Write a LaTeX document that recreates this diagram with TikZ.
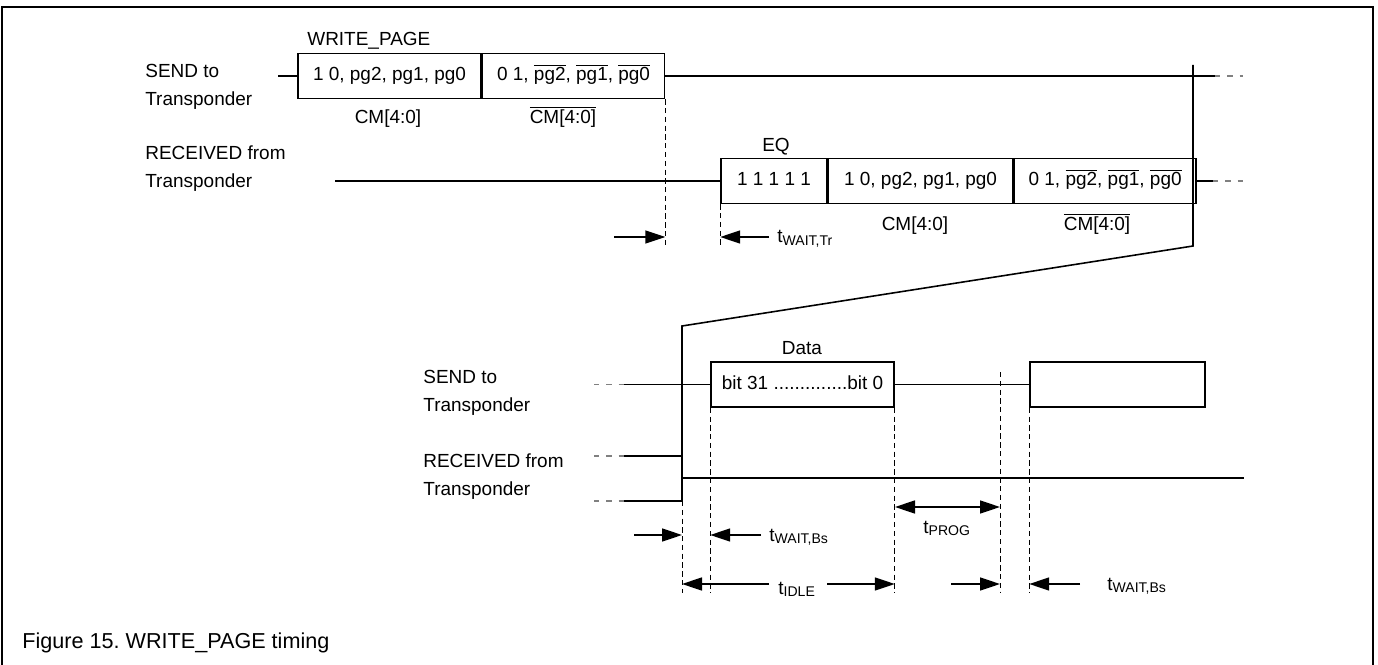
\documentclass[tikz,border=0pt]{standalone}
\usepackage{fontspec}
\setmainfont{Liberation Sans}
\usepackage{tikz}
\usetikzlibrary{arrows.meta}

\newcommand{\ovl}[1]{$\overline{\mbox{#1}}$}
\newcommand{\tsub}[1]{\raisebox{-0.12em}{\fontsize{8}{9}\selectfont #1}}

\begin{document}
\begin{tikzpicture}[x=0.02cm, y=-0.02cm, font=\fontsize{10.8}{16}\selectfont,
        seg/.style={draw, line width=0.9pt, minimum height=0.9cm, inner sep=0pt, text height=0.72em, text depth=0.2em},
        sig/.style={line width=0.9pt},
        ext/.style={gray, line width=0.9pt, dash pattern=on 3pt off 4pt},
        guide/.style={line width=0.4pt, dash pattern=on 3pt off 2pt},
        tarr/.style={-{Triangle[length=4mm,width=2.6mm]}, line width=0.9pt},
        tboth/.style={{Triangle[length=4mm,width=2.6mm]}-{Triangle[length=4mm,width=2.6mm]}, line width=0.9pt},
        lbl/.style={align=left, anchor=west, inner sep=0pt},
        txt/.style={anchor=base west, inner sep=0pt}]
        \useasboundingbox (0,0) rectangle (1378,665);
        \draw[line width=1.3pt] (2,665) -- (2,7) -- (1373,7) -- (1373,665); % frame

        % command sent to the transponder
        \node[lbl] (sendA) at (145,86.5) {SEND to\\Transponder};
        \node[seg, minimum width=3.66cm] (wpA) at (389.5,76) {1 0, pg2, pg1, pg0};
        \node[seg, minimum width=3.64cm, anchor=west] (wpB) at (wpA.east) {0 1, \ovl{pg2}, \ovl{pg1}, \ovl{pg0}};
        \node[txt] (wpName) at (307,46) {WRITE\_PAGE};
        \node[anchor=base, inner sep=0pt] (cmA) at (388,124) {CM[4:0]};
        \node[anchor=base, inner sep=0pt] (cmB) at (563,124) {\ovl{CM[4:0]}};
        \coordinate (sendAin) at (278,76);
        \coordinate (sendAout) at (1215,76);
        \coordinate (sendAend) at (1243,76);
        \draw[sig] (sendAin) -- (wpA.west);
        \draw[sig] (wpB.east) -- (sendAout);
        \draw[ext] (sendAout) -- (sendAend);

        % answer from the transponder
        \node[lbl] (recvA) at (145,169) {RECEIVED from\\Transponder};
        \node[seg, minimum width=2.12cm] (eq) at (774,181) {1 1 1 1 1};
        \node[seg, minimum width=3.68cm, anchor=west] (rcA) at (eq.east) {1 0, pg2, pg1, pg0};
        \node[seg, minimum width=3.64cm, anchor=west] (rcB) at (rcA.east) {0 1, \ovl{pg2}, \ovl{pg1}, \ovl{pg0}};
        \node[anchor=base, inner sep=0pt] (eqName) at (776,152) {EQ};
        \node[anchor=base, inner sep=0pt] (cmC) at (915,230.5) {CM[4:0]};
        \node[anchor=base, inner sep=0pt] (cmD) at (1097,230.5) {\ovl{CM[4:0]}};
        \coordinate (recvAin) at (335,181);
        \coordinate (recvAout) at (1213,181);
        \coordinate (recvAend) at (1243,181);
        \draw[sig] (recvAin) -- (eq.west);
        \draw[sig] (rcB.east) -- (recvAout);
        \draw[ext] (recvAout) -- (recvAend);

        % t_WAIT,Tr
        \coordinate (gEndA) at (0,248);
        \draw[guide] (wpB.south east) -- (wpB.south east |- gEndA);
        \draw[guide] (eq.south west) -- (eq.south west |- gEndA);
        \coordinate (aA) at (614,237);
        \coordinate (aB) at (769,237);
        \draw[tarr] (aA) -- (aA -| wpB.east);
        \draw[tarr] (aB) -- (aB -| eq.west);
        \node[txt] (tWaitTr) at (777,243) {t\tsub{WAIT,Tr}};

        % zoom into the end of the answer
        \coordinate (zTop) at (1193,65);
        \coordinate (zR) at (1193,246);
        \coordinate (zL) at (682,326);
        \coordinate (zBot) at (682,501);
        \draw[sig] (zTop) -- (zR) -- (zL) -- (zBot);

        % data sent to the transponder
        \node[lbl] (sendB) at (423,393) {SEND to\\Transponder};
        \node[seg, minimum width=3.66cm] (data) at (802.5,384.5) {bit 31 ..............bit 0};
        \node[seg, minimum width=3.5cm] (nxt) at (1117.5,384.5) {};
        \node[anchor=base, inner sep=0pt] (dataName) at (802,354) {Data};
        \coordinate (sendBdash) at (594,384.5);
        \coordinate (sendBin) at (624,384.5);
        \draw[ext] (sendBdash) -- (sendBin);
        \draw[sig] (sendBin) -- (data.west);
        \draw[sig] (data.east) -- (nxt.west);

        % transponder line after the answer
        \node[lbl] (recvB) at (423,476.5) {RECEIVED from\\Transponder};
        \coordinate (hiDash) at (594,456);
        \coordinate (hiIn) at (624,456);
        \coordinate (loDash) at (594,501);
        \coordinate (loIn) at (624,501);
        \draw[ext] (hiDash) -- (hiIn);
        \draw[ext] (loDash) -- (loIn);
        \draw[sig] (hiIn) -- (hiIn -| zBot);
        \draw[sig] (loIn) -- (zBot);
        \coordinate (mid) at (682,478);
        \coordinate (midOut) at (1244,478);
        \draw[sig] (mid) -- (midOut);

        % timing guides
        \coordinate (gP) at (1000,372);
        \coordinate (gEnd) at (0,593);
        \draw[guide] (zBot) -- (zBot |- gEnd);
        \draw[guide] (data.south west) -- (data.south west |- gEnd);
        \draw[guide] (data.south east) -- (data.south east |- gEnd);
        \draw[guide] (gP) -- (gP |- gEnd);
        \draw[guide] (nxt.south west) -- (nxt.south west |- gEnd);

        \coordinate (b1) at (634,535);
        \coordinate (b2) at (761,535);
        \draw[tarr] (b1) -- (b1 -| zBot);
        \draw[tarr] (b2) -- (b2 -| data.west);
        \node[txt] (tWaitBsA) at (769,541) {t\tsub{WAIT,Bs}};

        \coordinate (p1) at (895,507);
        \draw[tboth] (p1) -- (p1 -| gP);
        \node[txt] (tProg) at (923,533) {t\tsub{PROG}};

        \coordinate (i1) at (769,584);
        \coordinate (i2) at (827,584);
        \draw[tarr] (i1) -- (i1 -| zBot);
        \draw[tarr] (i2) -- (i2 -| data.east);
        \node[txt] (tIdle) at (778,594) {t\tsub{IDLE}};

        \coordinate (w1) at (951,584);
        \coordinate (w2) at (1080,584);
        \draw[tarr] (w1) -- (w1 -| gP);
        \draw[tarr] (w2) -- (w2 -| nxt.west);
        \node[txt] (tWaitBsB) at (1107,590) {t\tsub{WAIT,Bs}};

        \node[txt, font=\fontsize{12.3}{14}\selectfont] (caption) at (22,648) {Figure 15.\ WRITE\_PAGE timing};
    \end{tikzpicture}
\end{document}
